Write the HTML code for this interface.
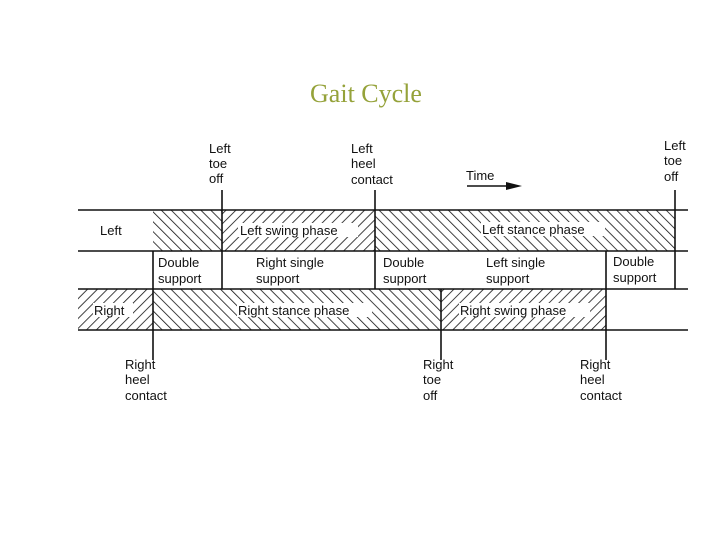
<!DOCTYPE html>
<html><head><style>
body{margin:0;background:#fff;width:720px;height:540px;overflow:hidden}
svg{display:block}
text{font-family:"Liberation Sans",sans-serif;font-size:13px;fill:#111}
</style></head><body>
<svg width="720" height="540" viewBox="0 0 720 540">
<defs>
<pattern id="b" patternUnits="userSpaceOnUse" width="7" height="7" patternTransform="rotate(45)">
<line x1="0" y1="0" x2="0" y2="7" stroke="#111" stroke-width="1.6"/></pattern>
<pattern id="f" patternUnits="userSpaceOnUse" width="7" height="7" patternTransform="rotate(-45)">
<line x1="0" y1="0" x2="0" y2="7" stroke="#111" stroke-width="1.6"/></pattern>
</defs>
<text x="366" y="102" text-anchor="middle" style="font-family:'Liberation Serif',serif;font-size:26px;fill:#95a23a">Gait Cycle</text>
<rect x="153" y="210" width="69" height="41" fill="url(#f)"/>
<rect x="222" y="210" width="153" height="41" fill="url(#b)"/>
<rect x="375" y="210" width="300" height="41" fill="url(#f)"/>
<rect x="78" y="289" width="75" height="41" fill="url(#b)"/>
<rect x="153" y="289" width="288" height="41" fill="url(#f)"/>
<rect x="441" y="289" width="165" height="41" fill="url(#b)"/>
<g fill="#fff">
<rect x="238" y="223" width="120" height="14"/>
<rect x="481" y="222" width="124" height="14"/>
<rect x="93" y="303" width="40" height="14"/>
<rect x="237" y="303" width="135" height="14"/>
<rect x="459" y="303" width="131" height="14"/>
</g>
<g stroke="#111" stroke-width="1.6" fill="none">
<line x1="78" y1="210" x2="688" y2="210"/>
<line x1="78" y1="251" x2="688" y2="251"/>
<line x1="78" y1="289" x2="688" y2="289"/>
<line x1="78" y1="330" x2="688" y2="330"/>
<line x1="153" y1="251" x2="153" y2="360"/>
<line x1="222" y1="190" x2="222" y2="289"/>
<line x1="375" y1="190" x2="375" y2="289"/>
<line x1="441" y1="289" x2="441" y2="360"/>
<line x1="606" y1="251" x2="606" y2="360"/>
<line x1="675" y1="190" x2="675" y2="289"/>
<line x1="467" y1="186" x2="510" y2="186"/>
</g>
<polygon points="506,182 522,186 506,190" fill="#111"/>
<text x="100" y="235">Left</text>
<text x="240" y="235">Left swing phase</text>
<text x="482" y="234">Left stance phase</text>
<text x="94" y="315">Right</text>
<text x="238" y="315">Right stance phase</text>
<text x="460" y="315">Right swing phase</text>
<text x="158" y="267">Double</text><text x="158" y="283">support</text>
<text x="256" y="267">Right single</text><text x="256" y="283">support</text>
<text x="383" y="267">Double</text><text x="383" y="283">support</text>
<text x="486" y="267">Left single</text><text x="486" y="283">support</text>
<text x="613" y="266">Double</text><text x="613" y="282">support</text>
<text x="209" y="153">Left</text><text x="209" y="168">toe</text><text x="209" y="183">off</text>
<text x="351" y="153">Left</text><text x="351" y="168">heel</text><text x="351" y="184">contact</text>
<text x="466" y="180">Time</text>
<text x="664" y="150">Left</text><text x="664" y="165">toe</text><text x="664" y="181">off</text>
<text x="125" y="369">Right</text><text x="125" y="384">heel</text><text x="125" y="400">contact</text>
<text x="423" y="369">Right</text><text x="423" y="384">toe</text><text x="423" y="400">off</text>
<text x="580" y="369">Right</text><text x="580" y="384">heel</text><text x="580" y="400">contact</text>
</svg>
</body></html>
